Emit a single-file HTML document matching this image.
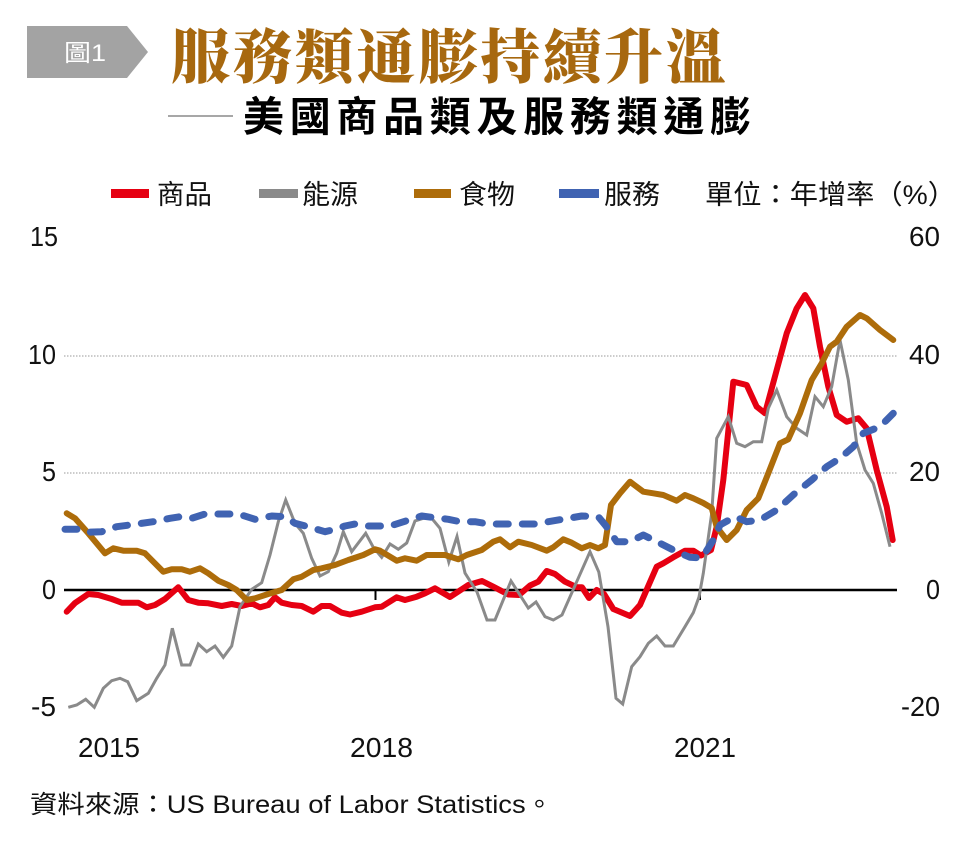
<!DOCTYPE html>
<html>
<head>
<meta charset="utf-8">
<style>
  html, body { margin: 0; padding: 0; background: #ffffff; }
  body { width: 969px; height: 846px; overflow: hidden; }
  svg { display: block; }
  .cjk { font-family: "Liberation Sans", "Noto Sans CJK TC", "Noto Sans CJK SC", sans-serif; }
  .num { font-family: "Liberation Sans", sans-serif; font-size: 28px; fill: #111; }
</style>
</head>
<body>
<svg width="969" height="846" viewBox="0 0 969 846" xmlns="http://www.w3.org/2000/svg">
  <rect x="0" y="0" width="969" height="846" fill="#ffffff"/>

  <!-- Header badge -->
  <polygon points="27,26 127,26 148,52 127,78 27,78" fill="#a3a3a3"/>
  <text x="64" y="61" class="cjk" font-size="24" fill="#ffffff" textLength="42" lengthAdjust="spacingAndGlyphs">圖1</text>

  <!-- Title -->
  <text x="171" y="78" font-family="'Liberation Serif', 'Noto Serif CJK SC', serif" font-weight="900" font-size="59" fill="#a7680f" textLength="554" lengthAdjust="spacing">服務類通膨持續升溫</text>

  <!-- Subtitle -->
  <line x1="168" y1="116" x2="233" y2="116" stroke="#8a8a8a" stroke-width="1.5"/>
  <text x="243" y="131" class="cjk" font-weight="700" font-size="41" fill="#000" textLength="508" lengthAdjust="spacing">美國商品類及服務類通膨</text>

  <!-- Legend -->
  <rect x="111" y="189" width="38" height="9" fill="#e60012"/>
  <text x="157" y="204" class="cjk" font-size="27" fill="#111" textLength="55" lengthAdjust="spacingAndGlyphs">商品</text>
  <rect x="259" y="189" width="39" height="9" fill="#8a8a8a"/>
  <text x="302" y="204" class="cjk" font-size="27" fill="#111" textLength="56" lengthAdjust="spacingAndGlyphs">能源</text>
  <rect x="414" y="189" width="37" height="9" fill="#ad6c0a"/>
  <text x="459" y="204" class="cjk" font-size="27" fill="#111" textLength="56" lengthAdjust="spacingAndGlyphs">食物</text>
  <rect x="559" y="189" width="40" height="9" fill="#4063b2"/>
  <text x="604" y="204" class="cjk" font-size="27" fill="#111" textLength="56" lengthAdjust="spacingAndGlyphs">服務</text>
  <text x="705" y="204" class="cjk" font-size="27" fill="#111" textLength="251" lengthAdjust="spacingAndGlyphs">單位：年增率（%）</text>

  <!-- Gridlines -->
  <line x1="64" y1="356" x2="897" y2="356" stroke="#9a9a9a" stroke-width="1" stroke-dasharray="1.5 1.5"/>
  <line x1="64" y1="473" x2="897" y2="473" stroke="#9a9a9a" stroke-width="1" stroke-dasharray="1.5 1.5"/>

  <!-- Left axis labels -->
  <text x="30" y="246" class="num" textLength="28" lengthAdjust="spacingAndGlyphs">15</text>
  <text x="28" y="364" class="num" textLength="28" lengthAdjust="spacingAndGlyphs">10</text>
  <text x="42" y="481" class="num" textLength="14" lengthAdjust="spacingAndGlyphs">5</text>
  <text x="42" y="599" class="num" textLength="14" lengthAdjust="spacingAndGlyphs">0</text>
  <text x="31" y="716" class="num" textLength="25" lengthAdjust="spacingAndGlyphs">-5</text>

  <!-- Right axis labels -->
  <text x="909" y="246" class="num" textLength="31" lengthAdjust="spacingAndGlyphs">60</text>
  <text x="909" y="364" class="num" textLength="31" lengthAdjust="spacingAndGlyphs">40</text>
  <text x="909" y="481" class="num" textLength="31" lengthAdjust="spacingAndGlyphs">20</text>
  <text x="926" y="599" class="num" textLength="14" lengthAdjust="spacingAndGlyphs">0</text>
  <text x="901" y="716" class="num" textLength="39" lengthAdjust="spacingAndGlyphs">-20</text>

  <!-- Year labels -->
  <text x="78" y="757" class="num" textLength="62" lengthAdjust="spacingAndGlyphs">2015</text>
  <text x="350" y="757" class="num" textLength="63" lengthAdjust="spacingAndGlyphs">2018</text>
  <text x="674" y="757" class="num" textLength="62" lengthAdjust="spacingAndGlyphs">2021</text>

  <!-- Zero axis -->
  <line x1="64" y1="590" x2="897" y2="590" stroke="#000" stroke-width="2.5"/>
  <line x1="375.5" y1="590" x2="375.5" y2="600" stroke="#000" stroke-width="2"/>
  <line x1="700" y1="590" x2="700" y2="600" stroke="#000" stroke-width="2"/>

  <!-- Goods (red) -->
  <polyline fill="none" stroke="#e60012" stroke-width="6" stroke-linejoin="round" stroke-linecap="round"
    points="66.7,611.7 75,603 88.3,594 98.3,595 111.7,599 121.7,602.7 138.3,602.7 146.7,607.3 155,605 165,599 178.3,587.3 188.3,600 198.3,602.7 208.3,603.3 221.7,606 231.7,604 241.7,606 251.7,603.3 260,607.3 268.3,605 275,597.3 281.7,602.7 291.7,605 301.7,606 313.3,611.7 321.7,606 330,606 341.7,612.7 350,614.5 361.7,611.7 375,607.3 381.7,606.7 396.7,597.3 405,600 416.7,596.7 425,593.3 435,588.3 450,597 468.3,585 482,581 493.3,586.7 508.3,594.5 519,595 530,585.5 538.3,581.7 546.7,571 555,574 565,581.7 577,587.3 582,587.3 589,598 596.7,590 604,594 613.3,609 630,616 640,605 656.7,566.7 663.3,563.3 673.3,557.3 685,550.7 693.3,550.7 701,555.5 711,550 716.7,526.7 723.3,480 733.3,381.7 746.7,385 756.7,406.7 765,413.3 776.7,370 786.7,333.3 796.7,308.3 805,295 813.3,308.3 820,346.7 828.3,386.7 836.7,415 846.7,421.7 858.3,418.3 866.7,428.3 876.7,470 886.7,506.7 892.7,540"/>

  <!-- Energy (gray, right axis) -->
  <polyline fill="none" stroke="#8a8a8a" stroke-width="3" stroke-linejoin="miter" stroke-linecap="butt"
    points="68.3,707.3 76.7,705 85.7,699.3 94.3,707.3 103.3,688.3 111.7,680.7 120,678.3 127.7,681.7 136.7,700.7 148.3,693.3 156.7,678.3 165,665 172.3,628.3 181.7,665 190,665 198.3,644 206.7,651.7 215,646 223.3,657.3 231.7,646 240,606.7 251.7,589.3 261.7,582.7 270,555 278.3,521.7 285.7,500 295,523.3 303.3,533.3 311.7,558.3 320,576 328.3,571.7 336.7,553.3 343.3,531.7 351.7,551.7 365.7,533.3 373.3,547.3 381.7,557.3 390,544 398.3,549.3 406.7,543 415,521 423.3,518.3 431.7,518.3 440,528.3 448.8,562 457,536.5 465,573 477,592 487,620 495,620 511,581 528.3,608 536,602 545,616.7 553.3,620 562,615 590,551.7 598.8,572 608,626.7 616,698.3 622.7,704 631.7,666.7 640,656.7 648.3,643.3 656.7,636 665,646 673.3,646 685,626.7 693.3,612.7 699,597 703.3,573.3 711.7,513.3 716.7,438.3 728.3,416.7 736.7,443.3 745,446.7 753.3,441.7 761.7,441.7 768.3,408.3 776.7,390 786.7,416.7 796.7,428.3 806.7,435 815,396.7 823.3,406.7 831.7,386.7 840,340 848.3,380 856.7,443.3 865,470 873.3,483.3 881.7,513.3 890,546.7"/>

  <!-- Food (brown) -->
  <polyline fill="none" stroke="#ad6c0a" stroke-width="6" stroke-linejoin="round" stroke-linecap="round"
    points="66.7,513.3 75,518.3 88.3,533.3 105,553.3 113.3,548.3 123.3,550.7 136.7,550.7 145,553.3 153.3,561.7 163.3,571.7 171.7,569.3 181.7,569.3 190,571.7 200,568.3 208.3,573.3 218.3,580.7 228.3,585 236.7,590 246.7,600 255,598.3 268.3,594 281.7,590 293.3,579.3 301.7,576.7 313.3,570 321.7,568.3 335,565 348.3,560 363.3,555 375,549.3 380,550.7 396.7,560.7 405,558.3 416.7,560.7 426.7,555 445,555 458.3,559.3 466.7,555 481.7,550 493.3,541.7 500,539.3 510,547.3 518.3,541.7 531.7,545 546.7,550.7 553.3,547.3 563.3,539.3 571.7,542.7 581.7,548.3 590,545 598.3,548.3 605,545 611,505 620,493.3 630,481.7 643.3,491.7 653.3,493.3 663.3,495 676.7,500.7 685,495 693.3,498.3 703.3,503 711.7,508 716.7,527 726.7,540 736.7,530 746.7,510 758.3,498.3 768.3,473.3 780,443.3 788.3,439.3 800,413.3 811.7,380 821.7,363.3 830,346.7 836.7,341.7 846.7,326.7 860,315 866.7,318.3 880,330 893.3,340"/>

  <!-- Services (blue dashed) -->
  <polyline fill="none" stroke="#4063b2" stroke-width="7" stroke-linejoin="round" stroke-linecap="round" stroke-dasharray="12 14"
    points="65,529.3 78.3,529.3 85,532.3 101.7,531.7 116.7,526.7 135,524.3 153.3,521.7 170,518.3 180,516.7 191.7,518.3 205,514 221.7,514 238.3,514 255,519.3 271.7,516 285,516.7 295,523.3 308.3,526.7 325,531.7 335,529.3 345,526 355,524 368.3,526 390,526 401.7,522.3 421.7,516 435,517.7 448.3,519.3 460,521.7 475,521.7 488.3,524 508.3,524 535,524 548.3,521.7 568.3,518.3 581.7,516 598.3,516.7 606,526 616.7,541.7 630,541.7 643.3,535 660,543.3 676.7,551.7 690,557.3 702,558 714,539 720,525 735,516.7 746.7,521.7 760,520 776.7,510 795,493.3 811.7,480 826.7,466.7 840,458.3 853.3,446.7 863.3,433.3 880,426.7 893.3,413.3"/>

  <!-- Source -->
  <text x="30" y="813" class="cjk" font-size="25" fill="#111" textLength="523" lengthAdjust="spacingAndGlyphs">資料來源：US Bureau of Labor Statistics。</text>
</svg>
</body>
</html>
